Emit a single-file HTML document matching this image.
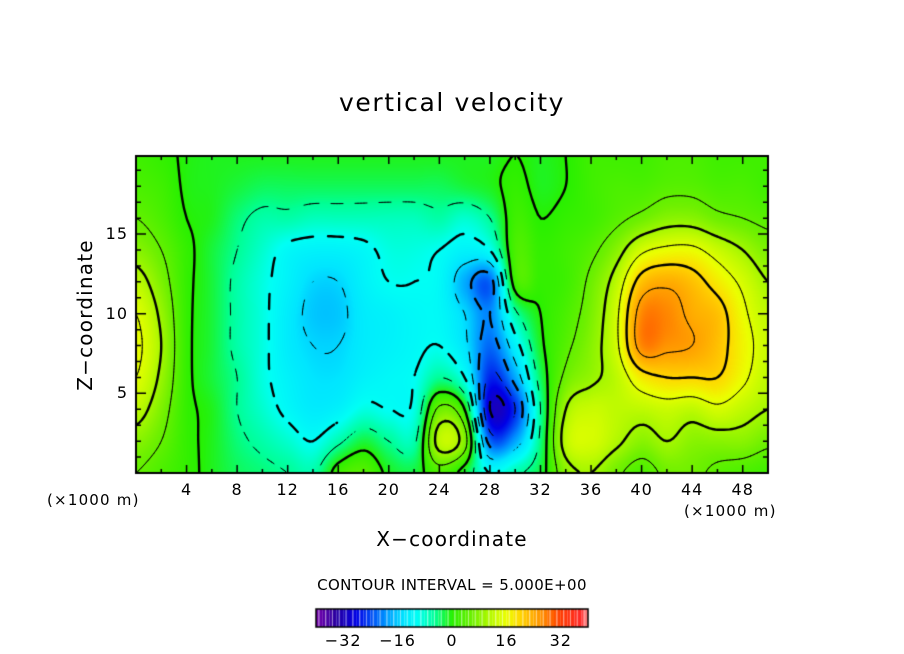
<!DOCTYPE html>
<html><head><meta charset="utf-8">
<style>
html,body{margin:0;padding:0;background:#fff;}
#wrap{position:relative;width:904px;height:654px;overflow:hidden;font-family:"DejaVu Sans","Liberation Sans",sans-serif;color:#000;}
.t{position:absolute;white-space:nowrap;}
</style></head>
<body>
<div id="wrap">
<div class="t" style="left:0;width:904px;top:88px;text-align:center;font-size:25px;letter-spacing:1.6px;">vertical velocity</div>
<div class="t" style="left:85px;top:315px;font-size:20px;letter-spacing:1.2px;transform:translate(-50%,-50%) rotate(-90deg);">Z−coordinate</div>
<div class="t" style="left:0;width:904px;top:527px;text-align:center;font-size:20px;letter-spacing:1.2px;">X−coordinate</div>
<div class="t" style="left:47px;top:491px;font-size:15px;letter-spacing:1.2px;">(×1000 m)</div>
<div class="t" style="left:684px;top:502px;font-size:15px;letter-spacing:1.2px;">(×1000 m)</div>
<div class="t" style="left:0;width:904px;top:576px;text-align:center;font-size:15px;letter-spacing:0.4px;">CONTOUR INTERVAL = 5.000E+00</div>
<canvas id="cv" width="904" height="654" style="position:absolute;left:0;top:0;"></canvas>
<div id="labels"></div>
</div>
<script>
// ---- data ----
const xCoords=[0,2,4,6,8,10,12,14,16,18,20,22,24,26,28,30,32,34,36,38,40,42,44,46,48,50];
const zCoords=[0,2,4,6,8,10,12,14,16,18,20];
// each column: values at z = 0..20 step 2
const wColumns=[
[5,8,12,15,16,15,12,8,5,3,2],
[3,5,7,9,10,9,7,5,3,2,1],
[1,1,1,1,1,1,1,1,0,-0.5,-0.5],
[-1,-1,-1,-2,-2,-2,-2,-2,-1,-1,-1],
[-3,-4,-5,-5,-6,-6,-6,-5,-4,-2,-1],
[-4,-6,-8,-9,-9,-9,-9,-8,-6,-3,-1],
[-5,-8,-11,-12,-13,-13,-12,-11,-6,-3,-1],
[-6,-10,-13,-14,-15,-16,-15,-12,-7,-3,-1],
[2,-6,-12,-14,-15,-16,-15,-12,-7,-3,-1],
[4,-2,-9,-12,-13,-13,-12,-11,-7,-3,-1],
[-1,-5,-10,-11,-12,-12,-10,-9,-7,-3,-1],
[-2,-6,-9,-10,-11,-11,-10,-9,-7,-3,-1],
[3,12,6,-5,-10,-11,-11,-10,-6,-3,-1],
[-2,7,0,-10,-14,-15,-18,-12,-8,-2,-1],
[-10,-22,-30,-26,-22,-20,-22,-10,-5,-1,-1],
[-6,-18,-25,-18,-12,-6,2,3,2,1,0],
[-2,-4,-5,-3,-1,0,1,1,0,-1,-1],
[8,12,10,6,4,3,2,2,1,0,0],
[10,14,13,9,8,7,6,4,2,2,2],
[6,11,12,12,14,14,12,8,4,3,2],
[3,8,12,18,27,27,22,14,6,3,2],
[6,10,13,20,26,27,24,16,8,4,3],
[6,8,12,20,25,24,22,16,8,4,3],
[4,8,14,20,22,22,18,13,6,3,2],
[3,8,12,16,17,16,14,10,5,3,2],
[2,6,10,12,13,12,10,7,4,2,2]
];
const xTicks=[4,8,12,16,20,24,28,32,36,40,44,48];
const zTicks=[5,10,15];
const cbTicks=[-32,-16,0,16,32];
const contourLevels=[-35,-30,-25,-20,-15,-10,-5,0,5,10,15,20,25,30];

// ---- geometry ----
const PL=136,PR=768,PT=156,PB=473,XMAX=50,ZMAX=19.9;
const sx=x=>PL+x/XMAX*(PR-PL);
const sz=z=>PB-z/ZMAX*(PB-PT);
const stops=[[-40,120,0,170],[-34,40,0,160],[-28,0,0,230],[-20,0,140,255],[-14,0,230,255],[-10,0,255,245],[-5,0,255,150],[0,40,240,0],[6,110,240,0],[12,190,250,0],[16,235,255,0],[20,255,215,0],[26,255,150,0],[32,255,60,0],[38,255,40,40],[40,255,150,150]];
function col(v){
  if(v<=stops[0][0])return stops[0].slice(1);
  for(let i=1;i<stops.length;i++){if(v<=stops[i][0]){const a=stops[i-1],b=stops[i],t=(v-a[0])/(b[0]-a[0]);return [a[1]+t*(b[1]-a[1]),a[2]+t*(b[2]-a[2]),a[3]+t*(b[3]-a[3])];}}
  return stops[stops.length-1].slice(1);
}
function cr(p0,p1,p2,p3,t){return 0.5*((2*p1)+(-p0+p2)*t+(2*p0-5*p1+4*p2-p3)*t*t+(-p0+3*p1-3*p2+p3)*t*t*t);}
function gv(i,j){i=Math.max(0,Math.min(xCoords.length-1,i));j=Math.max(0,Math.min(zCoords.length-1,j));return wColumns[i][j];}
function field(x,z){
  const dx=xCoords[1]-xCoords[0],dz=zCoords[1]-zCoords[0];
  let fi=Math.min(Math.max((x-xCoords[0])/dx,0),xCoords.length-1.0001);
  let fj=Math.min(Math.max((z-zCoords[0])/dz,0),zCoords.length-1.0001);
  const i=Math.floor(fi),j=Math.floor(fj),tx=fi-i,tz=fj-j;
  const r=[];for(let m=-1;m<=2;m++){r.push(cr(gv(i-1,j+m),gv(i,j+m),gv(i+1,j+m),gv(i+2,j+m),tx));}
  return cr(r[0],r[1],r[2],r[3],tz);
}
const cv=document.getElementById('cv'),ctx=cv.getContext('2d');
const W=PR-PL,H=PB-PT;
const img=ctx.createImageData(W,H);
for(let py=0;py<H;py++){for(let px=0;px<W;px++){
  const x=px/W*XMAX,z=(H-py)/H*ZMAX;const c=col(field(x,z));const k=(py*W+px)*4;
  img.data[k]=c[0];img.data[k+1]=c[1];img.data[k+2]=c[2];img.data[k+3]=255;}}
ctx.putImageData(img,PL,PT);
// contours via marching squares
const S=3,nx=Math.ceil(W/S),nz=Math.ceil(H/S);
const F=[];for(let i=0;i<=nx;i++){F[i]=[];for(let j=0;j<=nz;j++){F[i][j]=field(Math.min(i*S,W)/W*XMAX,(H-Math.min(j*S,H))/H*ZMAX);}}
ctx.save();ctx.beginPath();ctx.rect(PL,PT,W,H);ctx.clip();
contourLevels.forEach(L=>{
  const major=(L%10===0);
  ctx.beginPath();
  for(let i=0;i<nx;i++)for(let j=0;j<nz;j++){
    if(L<0){const per=major?5:4;if(Math.floor((i+j)/per)%2===1)continue;}
    const p=[[i,j],[i+1,j],[i+1,j+1],[i,j+1]];const pts=[];
    for(let e=0;e<4;e++){const A=p[e],B=p[(e+1)%4];const va=F[A[0]][A[1]],vb=F[B[0]][B[1]];
      if((va<L)!==(vb<L)){const t=(L-va)/(vb-va);pts.push([PL+(A[0]+t*(B[0]-A[0]))*S,PT+(A[1]+t*(B[1]-A[1]))*S]);}}
    for(let k=0;k+1<pts.length;k+=2){ctx.moveTo(pts[k][0],pts[k][1]);ctx.lineTo(pts[k+1][0],pts[k+1][1]);}
  }
  ctx.lineWidth=major?2.4:1;ctx.strokeStyle='#000';ctx.lineCap='round';
  ctx.stroke();
});
ctx.restore();
// frame and ticks
ctx.strokeStyle='#000';ctx.lineWidth=2;ctx.strokeRect(PL,PT,W,H);
ctx.lineWidth=1.5;ctx.beginPath();
for(let x=2;x<XMAX;x+=2){const L=(x%4===0)?8:4;ctx.moveTo(sx(x),PB);ctx.lineTo(sx(x),PB-L);ctx.moveTo(sx(x),PT);ctx.lineTo(sx(x),PT+L);}
for(let z=1;z<ZMAX;z++){const L=(z%5===0)?10:5;ctx.moveTo(PL,sz(z));ctx.lineTo(PL+L,sz(z));ctx.moveTo(PR,sz(z));ctx.lineTo(PR-L,sz(z));}
ctx.stroke();
const lab=document.getElementById('labels');
function addLabel(txt,x,y,name,align){const d=document.createElement('div');d.className='t';d.textContent=txt;
  d.style.fontSize='16px';d.style.letterSpacing='1px';d.style.top=(y-10)+'px';
  if(align==='right'){d.style.left=(x-60)+'px';d.style.width='60px';d.style.textAlign='right';}else{d.style.left=(x-30)+'px';d.style.width='60px';d.style.textAlign='center';}
  
  
  lab.appendChild(d);}
xTicks.forEach(v=>addLabel(String(v),sx(v),490,'x-tick-label','center'));
zTicks.forEach(v=>addLabel(String(v),PL-8,sz(v),'y-tick-label','right'));
// colorbar
const CB0=316,CB1=588,CBT=609,CBB=627;const cbx=v=>CB0+(v+40)/80*(CB1-CB0);
for(let v=-40;v<40;v+=1){const c=col(v+0.5);ctx.fillStyle='rgb('+c.map(Math.round).join(',')+')';
  ctx.fillRect(cbx(v),CBT,cbx(v+1)-cbx(v),CBB-CBT);
  if(v%2===0){ctx.fillStyle='rgba(255,255,255,0.55)';ctx.fillRect(cbx(v)+2.3,CBT,1,CBB-CBT);}}
ctx.lineWidth=1.5;ctx.strokeStyle='#000';ctx.strokeRect(CB0,CBT,CB1-CB0,CBB-CBT);
cbTicks.forEach(v=>addLabel(v<0?'−'+Math.abs(v):String(v),cbx(v),641,'colorbar-tick-label','center'));
</script>
</body></html>
